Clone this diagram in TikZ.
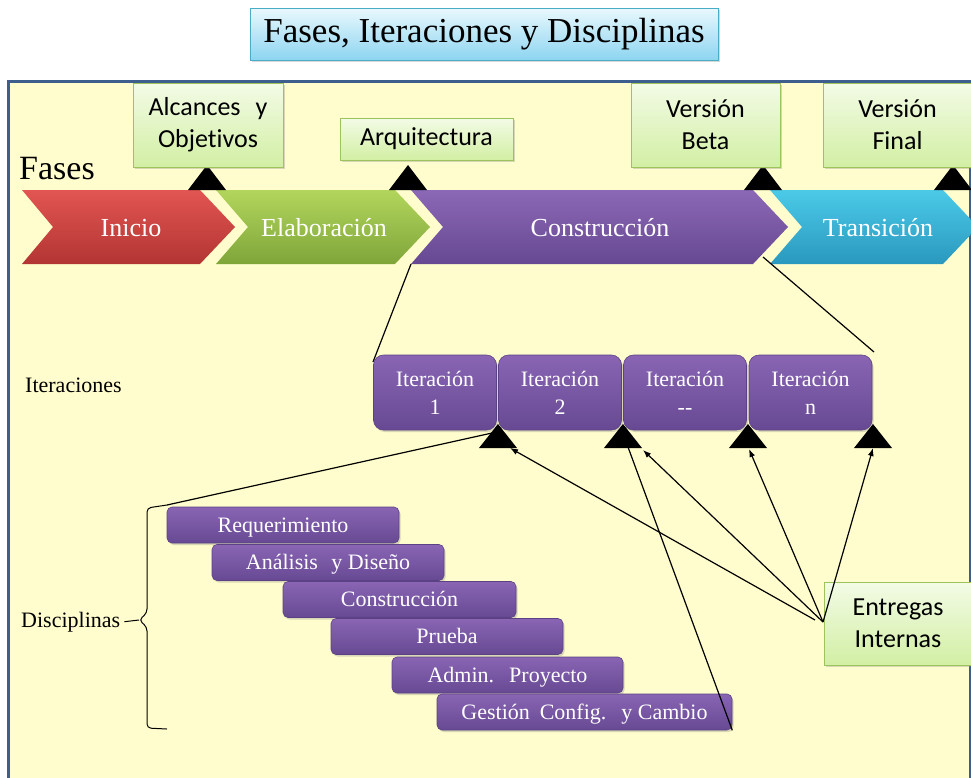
\documentclass[tikz,border=0pt]{standalone}
\usepackage{fontspec}
\setmainfont{Liberation Serif}
\newfontfamily\sansf[Ligatures=NoCommon]{Carlito}
\usetikzlibrary{arrows.meta,shadows}

\definecolor{framebg}{HTML}{FFFDCD}
\definecolor{frameline}{HTML}{3E5E8E}
\definecolor{mstop}{HTML}{F3FBE6}
\definecolor{msbot}{HTML}{D2EFA4}
\definecolor{msline}{HTML}{9CC35C}
\definecolor{ttop}{HTML}{E9F8FD}
\definecolor{tbot}{HTML}{8DD5F1}
\definecolor{tline}{HTML}{4BACC6}
\definecolor{redtop}{HTML}{E25552}
\definecolor{redbot}{HTML}{B23533}
\definecolor{grntop}{HTML}{B2D65C}
\definecolor{grnbot}{HTML}{7FA53A}
\definecolor{purtop}{HTML}{8C68B6}
\definecolor{purbot}{HTML}{664891}
\definecolor{cyantop}{HTML}{4BCAE8}
\definecolor{cyanbot}{HTML}{2A98BE}
\definecolor{ptop}{HTML}{8965B4}
\definecolor{pbot}{HTML}{674993}
\definecolor{pline}{HTML}{5C4285}

\tikzset{
  softshadow/.style={drop shadow={shadow xshift=1.5pt,shadow yshift=-2pt,opacity=0.3}},
  milestone/.style={draw=msline, line width=1pt, top color=mstop, bottom color=msbot,
    font=\sansf\fontsize{26}{32}\selectfont, align=center, inner sep=0pt, softshadow},
  phase/.style={draw=none},
  phaselabel/.style={text=white, font=\fontsize{26}{30}\selectfont, inner sep=0pt, anchor=base},
  purplebox/.style={draw=pline, line width=0.6pt, top color=ptop, bottom color=pbot,
    text=white, align=center, inner sep=0pt, softshadow},
  iterbox/.style={purplebox, rounded corners=10pt, minimum width=123pt, minimum height=75pt,
    font=\fontsize{22}{28}\selectfont},
  discbar/.style={purplebox, rounded corners=5pt, minimum height=36pt,
    text height=16pt, text depth=2pt, font=\fontsize{22}{26}\selectfont},
  sidelabel/.style={font=\fontsize{22}{26}\selectfont, inner sep=0pt, anchor=base west},
  link/.style={line width=1.2pt, black},
  deliver/.style={link, -{Latex[length=8pt,width=6pt]}},
  marker/.style={fill=black}
}

\begin{document}
\begin{tikzpicture}[x=1pt, y=-1pt]
\useasboundingbox (0,0) rectangle (971,777);
\fill[white] (0,0) rectangle (971,777);
\begin{scope}
\clip (0,0) rectangle (971,777);

% title
\node[draw=tline, line width=1pt, top color=ttop, bottom color=tbot, softshadow,
      minimum width=468pt, minimum height=52pt, inner sep=0pt,
      font=\fontsize{35}{40}\selectfont] (title) at (484,34) {Fases, Iteraciones y Disciplinas};

% main panel
\draw[fill=framebg, draw=frameline, line width=3pt] (8,81) rectangle (970,820);

% phase chevrons
\path[phase, top color=redtop, bottom color=redbot]
  (22,190) -- (200,190) -- (235,227) -- (200,264) -- (22,264) -- (53,227) -- cycle;
\path[phase, top color=grntop, bottom color=grnbot]
  (216,190) -- (395,190) -- (430,227) -- (395,264) -- (216,264) -- (248,227) -- cycle;
\path[phase, top color=purtop, bottom color=purbot]
  (411,190) -- (753,190) -- (788,227) -- (753,264) -- (411,264) -- (443,227) -- cycle;
\path[phase, top color=cyantop, bottom color=cyanbot]
  (770,190) -- (943,190) -- (978,227) -- (943,264) -- (770,264) -- (802,227) -- cycle;

\node[phaselabel] (inicio) at (131,236) {Inicio};
\node[phaselabel] (elab) at (324,236) {Elaboración};
\node[phaselabel] (constr) at (600,236) {Construcción};
\node[phaselabel] (trans) at (878,236) {Transición};

\node[font=\fontsize{34}{38}\selectfont, inner sep=0pt, anchor=base west] (fases) at (19,179) {Fases};

% milestone markers on the phase bar
\coordinate (m1) at (207,165);
\coordinate (m2) at (408,165);
\coordinate (m3) at (763,165);
\coordinate (m4) at (953,165);
\foreach \m in {m1,m2,m3,m4}
  \fill[marker] (\m) -- ++(19,25) -- ++(-38,0) -- cycle;

% milestones
\node[milestone, minimum width=150pt, minimum height=84pt] (alc) at (208,125) {Alcances\hspace{0.35em} y\\Objet\kern0pt ivos};
\node[milestone, minimum width=173pt, minimum height=42pt] (arq) at (426.5,139) {Arquitectura};
\node[milestone, minimum width=149pt, minimum height=84pt] (beta) at (705.5,125) {Versión\\Beta};
\node[milestone, minimum width=149pt, minimum height=84pt] (final) at (897.5,125) {Versión\\Final};

% expansion of the construction phase
\coordinate (cl) at (411,264);
\coordinate (cr) at (763,257);
\coordinate (il) at (373,362);
\coordinate (ir) at (874,352);
\draw[link] (cl) -- (il);
\draw[link] (cr) -- (ir);

% iterations
\node[sidelabel] (iterlbl) at (25,392) {Iteraciones};
\node[iterbox] (it1) at (435,392.5) {Iteración\\1};
\node[iterbox] (it2) at (560,392.5) {Iteración\\2};
\node[iterbox] (it3) at (685,392.5) {Iteración\\-{}-};
\node[iterbox] (it4) at (810.5,392.5) {Iteración\\n};

% disciplines
\node[discbar, minimum width=232pt] (req) at (283,525) {Requerimiento};
\node[discbar, minimum width=232pt] (ana) at (328,562.5) {Análisis\hspace{0.35em} y Diseño};
\node[discbar, minimum width=233pt] (con) at (399.5,599.5) {Construcción};
\node[discbar, minimum width=232pt] (pru) at (447,636.5) {Prueba};
\node[discbar, minimum width=231pt] (adm) at (507.5,675) {Admin.\hspace{0.35em} Proyecto};
\node[discbar, minimum width=295pt] (gcc) at (584.5,712) {Gestión\hspace{0.2em} Config.\hspace{0.35em} y Cambio};

\node[sidelabel] (disc) at (21,627) {Disciplinas};

% brace grouping the disciplines
\coordinate (btop) at (167,505);
\coordinate (btip) at (139,620);
\draw[link, line width=1pt, rounded corners=4pt]
  (btop) -- (147,508) -- (147,613) -- (btip) -- (147,627) -- (147,728) -- (167,729);
\draw[link, line width=1pt] (disc.east) ++(4,0) -- (btip);

% iteration delivery markers
\coordinate (t1) at (498,424);
\coordinate (t2) at (623,424);
\coordinate (t3) at (748,424);
\coordinate (t4) at (873,424);

\coordinate (itc) at (492,433);
\draw[link] (btop) -- (itc);

\foreach \t in {t1,t2,t3,t4}
  \fill[marker] (\t) -- ++(19,24) -- ++(-38,0) -- cycle;

% internal deliveries
\node[milestone, minimum width=148pt, minimum height=83pt] (ent) at (898,623.5) {Entregas\\Internas};

\coordinate (a1) at (510,448);
\coordinate (a2) at (643,450);
\coordinate (a3) at (749,449);
\coordinate (a4) at (873,448);
\coordinate (e0) at (823,622);
\coordinate (e1) at (815,620);
\draw[deliver] (e1) -- (a1);
\draw[deliver] (e0) -- (a2);
\draw[deliver] (e0) -- (a3);
\draw[deliver] (e0) -- (a4);

\coordinate (g2) at (628,447);
\draw[link] (gcc.south east) -- (g2);
\end{scope}
\end{tikzpicture}
\end{document}
